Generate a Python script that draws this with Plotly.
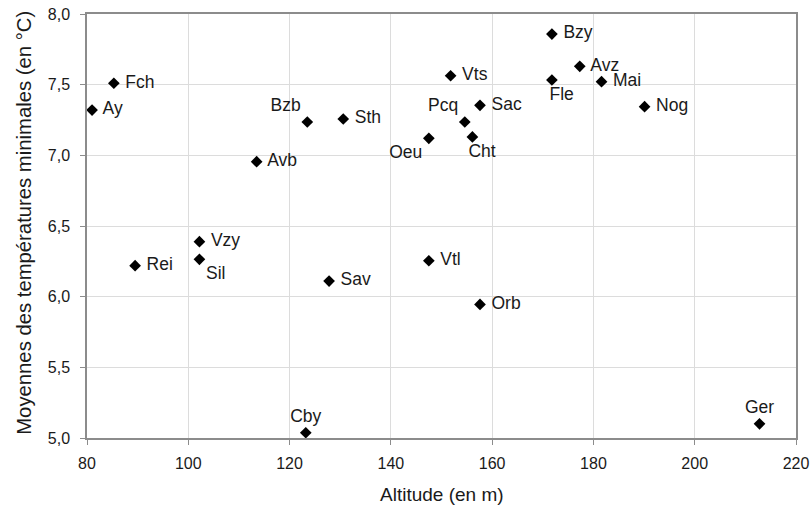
import plotly.graph_objects as go

# stations
noms = ["Ay", "Fch", "Avb", "Bzb", "Sth", "Vts", "Pcq", "Oeu", "Sac", "Cht",
        "Bzy", "Avz", "Fle", "Mai", "Nog", "Vzy", "Sil", "Rei", "Vtl", "Sav",
        "Orb", "Cby", "Ger"]
# altitude (m)
altitude = [81.0, 85.3, 113.5, 123.5, 130.6, 151.8, 154.6, 147.5, 157.6, 156.1,
            171.8, 177.3, 171.8, 181.6, 190.1, 102.2, 102.2, 89.5, 147.5, 127.8,
            157.6, 123.2, 212.8]
# moyenne des températures minimales (°C)
tmin = [7.32, 7.51, 6.955, 7.236, 7.257, 7.563, 7.236, 7.12, 7.354, 7.13,
        7.858, 7.63, 7.533, 7.521, 7.344, 6.389, 6.264, 6.219, 6.254, 6.11,
        5.945, 5.037, 5.10]
# position des étiquettes
pos = ["middle right", "middle right", "middle right", "top left", "middle right",
       "middle right", "top left", "bottom left", "middle right", "bottom center",
       "middle right", "middle right", "bottom center", "middle right", "middle right",
       "middle right", "bottom right", "middle right", "middle right", "middle right",
       "middle right", "top center", "top center"]

# petit décalage des étiquettes (espaces en tête)
etiquettes = []
for n, p in zip(noms, pos):
    if p == "middle right":
        n = " " + n
    elif p == "bottom center":
        n = "    " + n
    etiquettes.append(n)

fig = go.Figure(go.Scatter(
    x=altitude, y=tmin, mode="markers+text",
    text=etiquettes, textposition=pos,
    textfont=dict(size=17.5, color="#1a1a1a"),
    marker=dict(symbol="diamond", size=9, color="black"),
    cliponaxis=False, hoverinfo="x+y+text",
))

fig.update_layout(
    width=811, height=515,
    margin=dict(l=87, r=15, t=14, b=77),
    paper_bgcolor="white", plot_bgcolor="white",
    separators=",.",
    font=dict(family="Liberation Sans, Arial, sans-serif", color="#1a1a1a"),
    showlegend=False,
    annotations=[
        dict(text="Altitude (en m)", xref="paper", yref="paper",
             x=0.5, y=-0.134, xanchor="center", yanchor="middle",
             showarrow=False, font=dict(size=19)),
        dict(text="Moyennes des températures minimales (en °C)", xref="paper", yref="paper",
             x=-0.09, y=0.508, xanchor="center", yanchor="middle", textangle=-90,
             showarrow=False, font=dict(size=20.3)),
    ],
)
fig.update_xaxes(
    range=[80, 220], dtick=20, tick0=80, automargin=False,
    showgrid=True, gridcolor="#dcdcdc", gridwidth=1,
    showline=True, linecolor="#8c8c8c", linewidth=1.5, mirror=True,
    ticks="outside", ticklen=5, tickcolor="#8c8c8c", ticklabelstandoff=5,
    tickfont=dict(size=16), zeroline=False,
)
fig.update_yaxes(
    range=[5, 8], dtick=0.5, tick0=5, tickformat=".1f", automargin=False,
    showgrid=True, gridcolor="#dcdcdc", gridwidth=1,
    showline=True, linecolor="#8c8c8c", linewidth=1.5, mirror=True,
    ticks="outside", ticklen=5, tickcolor="#8c8c8c", ticklabelstandoff=7,
    tickfont=dict(size=16), zeroline=False,
)

# la page a une marge de 8 px par défaut : on la retire
fig.write_html("out.html", config={"displayModeBar": False},
               post_script="document.body.style.margin='0';")
